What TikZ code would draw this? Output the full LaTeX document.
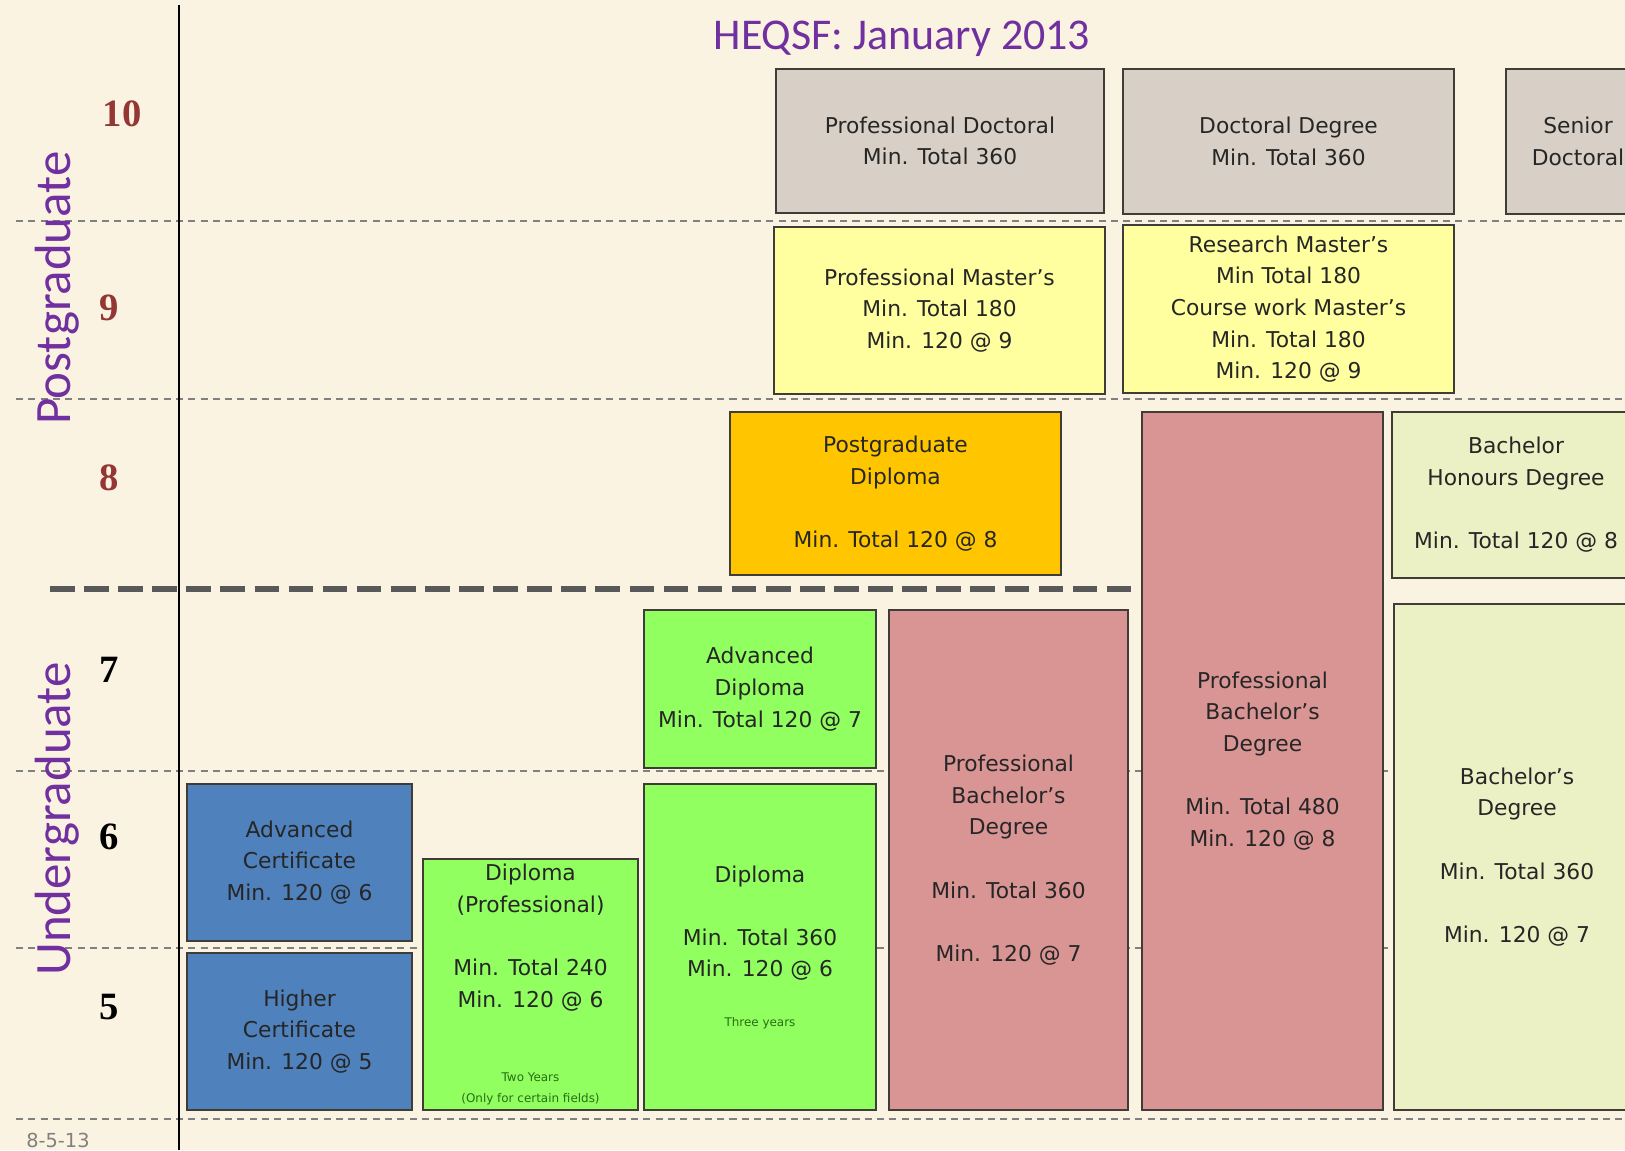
\documentclass[tikz,border=0pt]{standalone}
\usepackage{fontspec}
\setmainfont{Liberation Serif}
\setsansfont{DejaVu Sans}
\newfontfamily\titlefont{Carlito}
\usepackage{tikz}

\definecolor{paper}{RGB}{251,243,225}
\definecolor{docgrey}{RGB}{216,208,198}
\definecolor{masyellow}{RGB}{255,255,160}
\definecolor{pgorange}{RGB}{255,198,0}
\definecolor{profpink}{RGB}{217,149,148}
\definecolor{bachcream}{RGB}{235,241,196}
\definecolor{dipgreen}{RGB}{145,255,95}
\definecolor{certblue}{RGB}{79,129,189}
\definecolor{edgegrey}{RGB}{64,60,56}
\definecolor{heqpurple}{RGB}{112,48,160}
\definecolor{levelred}{RGB}{148,54,52}
\definecolor{notegreen}{RGB}{40,110,20}

\begin{document}
\begin{tikzpicture}[x=0.1mm,y=-0.1mm,
    qual/.style={draw=edgegrey,line width=0.8pt,inner sep=0pt,outer sep=0pt,align=center,
      font=\sffamily\fontsize{6.2}{9}\selectfont,text=black!85},
    level/.style={font=\bfseries\fontsize{11}{11}\selectfont},
    band/.style={font=\titlefont\fontsize{14.5}{14.5}\selectfont,text=heqpurple,rotate=90},
    levelline/.style={gray,line width=0.4pt,dash pattern=on 2pt off 1.5pt}]
    \fill [paper] (0,0) rectangle (1625,1150);
    \useasboundingbox (0,0) rectangle (1625,1150);
    \coordinate (l10w) at (16,221);  \coordinate (l10e) at (1625,221);
    \coordinate (l9w) at (16,399);   \coordinate (l9e) at (1625,399);
    \coordinate (l7w) at (16,771);   \coordinate (l7e) at (1625,771);
    \coordinate (l6w) at (16,948);   \coordinate (l6e) at (1625,948);
    \coordinate (l5w) at (16,1119);  \coordinate (l5e) at (1625,1119);
    \draw [levelline] (l10w) -- (l10e);
    \draw [levelline] (l9w) -- (l9e);
    \draw [levelline] (l7w) -- (l7e);
    \draw [levelline] (l6w) -- (l6e);
    \draw [levelline] (l5w) -- (l5e);
    \coordinate (axtop) at (179,5);
    \coordinate (axbot) at (179,1150);
    \draw [black,line width=0.7pt] (axtop) -- (axbot);
    \coordinate (ugw) at (50,589);
    \coordinate (uge) at (1142,589);
    \draw [black!65,line width=1.5pt,dash pattern=on 7pt off 2.7pt] (ugw) -- (uge);
    \node [font=\titlefont\fontsize{12.5}{12.5}\selectfont,text=heqpurple] (title) at (902,39) {HEQSF: January 2013};
    \node [qual,fill=docgrey,minimum width=32.8mm,minimum height=14.4mm] (pdoc) at (940,141) {Professional Doctoral\\Min. Total 360};
    \node [qual,fill=docgrey,minimum width=33.1mm,minimum height=14.5mm] (doc) at (1288.5,141.5) {Doctoral Degree\\Min. Total 360};
    \node [qual,fill=docgrey,minimum width=14.4mm,minimum height=14.5mm] (sdoc) at (1578,141.5) {Senior\\Doctoral};
    \node [qual,fill=masyellow,minimum width=33.1mm,minimum height=16.7mm] (pmas) at (939.5,310.5) {Professional Master's\\Min. Total 180\\Min. 120 @ 9};
    \node [qual,fill=masyellow,minimum width=33.1mm,minimum height=16.8mm] (rmas) at (1288.5,309) {Research Master's\\Min Total 180\\Course work Master's\\Min. Total 180\\Min. 120 @ 9};
    \node [qual,fill=pgorange,minimum width=33.1mm,minimum height=16.3mm] (pgdip) at (895.5,493.5) {Postgraduate\\Diploma\\[9pt]Min. Total 120 @ 8};
    \node [qual,fill=profpink,minimum width=24.1mm,minimum height=69.8mm] (pbachf) at (1262.5,761) {Professional\\Bachelor's\\Degree\\[9pt]Min. Total 480\\Min. 120 @ 8};
    \node [qual,fill=bachcream,minimum width=24.8mm,minimum height=16.6mm] (hons) at (1516,495) {Bachelor\\Honours Degree\\[9pt]Min. Total 120 @ 8};
    \node [qual,fill=dipgreen,minimum width=23.2mm,minimum height=15.8mm] (adip) at (760,689) {Advanced\\Diploma\\Min. Total 120 @ 7};
    \node [qual,fill=profpink,minimum width=23.9mm,minimum height=50mm] (pbacht) at (1008.5,860) {Professional\\Bachelor's\\Degree\\[9pt]Min. Total 360\\[9pt]Min. 120 @ 7};
    \node [qual,fill=bachcream,minimum width=24.6mm,minimum height=50.6mm] (bach) at (1517,857) {Bachelor's\\Degree\\[9pt]Min. Total 360\\[9pt]Min. 120 @ 7};
    \node [qual,fill=certblue,minimum width=22.5mm,minimum height=15.7mm] (acert) at (299.5,862.5) {Advanced\\Certificate\\Min. 120 @ 6};
    \node [qual,fill=certblue,minimum width=22.5mm,minimum height=15.7mm] (hcert) at (299.5,1031.5) {Higher\\Certificate\\Min. 120 @ 5};
    \node [qual,fill=dipgreen,minimum width=21.5mm,minimum height=25.1mm] (dipp) at (530.5,984.5) {Diploma\\(Professional)\\[9pt]Min. Total 240\\Min. 120 @ 6\\[12pt]{\color{notegreen}\fontsize{3.4}{4.6}\selectfont Two Years}\\[-3pt]{\color{notegreen}\fontsize{3.4}{4.6}\selectfont (Only for certain fields)}};
    \node [qual,fill=dipgreen,minimum width=23.2mm,minimum height=32.6mm] (dip) at (760,947) {Diploma\\[9pt]Min. Total 360\\Min. 120 @ 6\\[5pt]{\color{notegreen}\fontsize{3.4}{4.6}\selectfont Three years}};
    \node [level,text=levelred] (lten) at (122,114) {10};
    \node [level,text=levelred] (lnine) at (109,308) {9};
    \node [level,text=levelred] (leight) at (109,478) {8};
    \node [level] (lseven) at (109,670) {7};
    \node [level] (lsix) at (109,837) {6};
    \node [level] (lfive) at (109,1007) {5};
    \node [band] (postg) at (57,288) {Postgraduate};
    \node [band] (underg) at (57,819) {Undergraduate};
    \node [font=\sffamily\fontsize{5.5}{5.5}\selectfont,text=gray] (date) at (58,1140) {8-5-13};
\end{tikzpicture}
\end{document}
